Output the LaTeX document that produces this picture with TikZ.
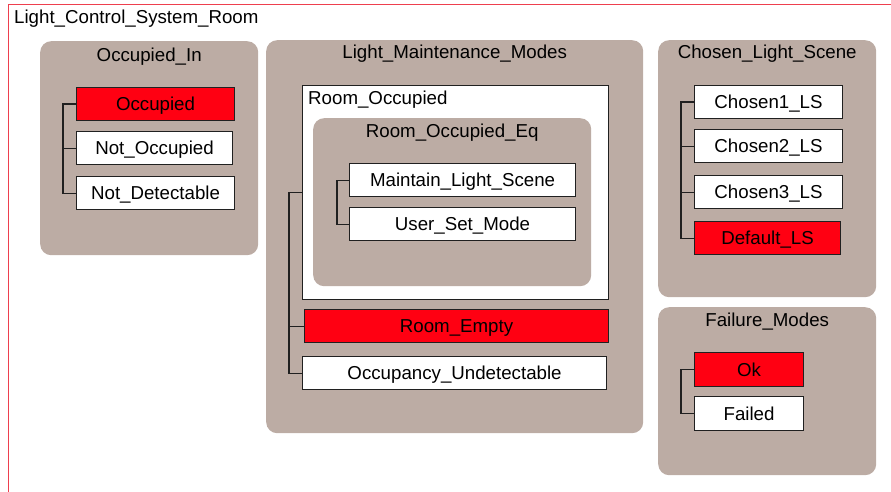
\documentclass[tikz,border=0pt]{standalone}
\usepackage{fontspec}
\setmainfont{Liberation Sans}
\usetikzlibrary{calc}
\definecolor{groupfill}{HTML}{BCACA4}
\definecolor{activered}{HTML}{FF0012}
\definecolor{framered}{HTML}{EE3F4E}
\definecolor{edge}{HTML}{202020}
\tikzset{
  lbl/.style={font=\fontsize{18.7}{22}\selectfont, inner sep=0pt, text height=13.4pt, text depth=0pt},
  group/.style={fill=groupfill, draw=none, rounded corners=11pt, inner sep=0pt, anchor=north west, text height=, text depth=},
  statebox/.style={lbl, draw=edge, line width=1.1pt, fill=white, anchor=north west},
  activebox/.style={statebox, fill=activered},
  grouptitle/.style={lbl, anchor=center},
  tree/.style={draw=edge, line width=1.1pt},
}
\begin{document}
\begin{tikzpicture}[x=1pt, y=-1pt]
\useasboundingbox (0,0) rectangle (891,492);
\begin{scope}
\clip (0,0) rectangle (891,492);
% outer system frame
\draw[framered, line width=1.4pt] (8.5,4.5) rectangle (920,520);
\node[lbl, anchor=west] (sysname) at (14,17) {Light\_Control\_System\_Room};

% ---------- Occupied_In ----------
\node[group, minimum width=218pt, minimum height=214pt] (gocc) at (40,41) {};
\node[grouptitle] (toc) at ($(gocc.north)+(0,14)$) {Occupied\_In};
\node[activebox, minimum width=158pt, minimum height=33pt] (occ) at (76,87) {Occupied};
\node[statebox, minimum width=156pt, minimum height=33pt] (nocc) at (76,131) {Not\_Occupied};
\node[statebox, minimum width=158pt, minimum height=33pt] (ndet) at (76,176) {Not\_Detectable};
\draw[tree] (occ.west) -- ++(-13,0) |- (ndet.west);
\draw[tree] (nocc.west) -- ++(-13,0);

% ---------- Light_Maintenance_Modes ----------
\node[group, minimum width=377pt, minimum height=393pt] (glmm) at (266,40) {};
\node[grouptitle] (tlmm) at ($(glmm.north)+(0,12)$) {Light\_Maintenance\_Modes};
\node[statebox, minimum width=306pt, minimum height=214pt] (rocc) at (302,85) {};
\node[lbl, anchor=west] (troc) at (308,98) {Room\_Occupied};
\node[group, minimum width=278pt, minimum height=168pt] (geq) at (313,118) {};
\node[grouptitle] (teq) at ($(geq.north)+(0,13)$) {Room\_Occupied\_Eq};
\node[statebox, minimum width=226pt, minimum height=33pt] (mls) at (349,163) {Maintain\_Light\_Scene};
\node[statebox, minimum width=226pt, minimum height=33pt] (usm) at (349,207) {User\_Set\_Mode};
\draw[tree] (mls.west) -- ++(-12,0) |- (usm.west);
\node[activebox, minimum width=304pt, minimum height=33pt] (remp) at (304,309) {Room\_Empty};
\node[statebox, minimum width=304pt, minimum height=33pt] (ound) at (302,356) {Occupancy\_Undetectable};
\draw[tree] (rocc.west) -- ++(-13,0) |- (ound.west);
\draw[tree] (remp.west) -- ++(-15,0);

% ---------- Chosen_Light_Scene ----------
\node[group, minimum width=218pt, minimum height=257pt] (gcls) at (658,40) {};
\node[grouptitle] (tcls) at ($(gcls.north)+(0,12)$) {Chosen\_Light\_Scene};
\node[statebox, minimum width=148pt, minimum height=33pt] (c1) at (694,85) {Chosen1\_LS};
\node[statebox, minimum width=148pt, minimum height=33pt] (c2) at (694,129) {Chosen2\_LS};
\node[statebox, minimum width=148pt, minimum height=33pt] (c3) at (694,175) {Chosen3\_LS};
\node[activebox, minimum width=146pt, minimum height=33pt] (cdef) at (694,221) {Default\_LS};
\draw[tree] (c1.west) -- ++(-13,0) |- (cdef.west);
\draw[tree] (c2.west) -- ++(-13,0);
\draw[tree] (c3.west) -- ++(-13,0);

% ---------- Failure_Modes ----------
\node[group, minimum width=218pt, minimum height=168pt] (gfm) at (658,307) {};
\node[grouptitle] (tfm) at ($(gfm.north)+(0,13)$) {Failure\_Modes};
\node[activebox, minimum width=109pt, minimum height=34pt] (fok) at (694,352) {Ok};
\node[statebox, minimum width=109pt, minimum height=34pt] (ffail) at (694,396) {Failed};
\draw[tree] (fok.west) -- ++(-13,0) |- (ffail.west);
\end{scope}
\end{tikzpicture}
\end{document}
